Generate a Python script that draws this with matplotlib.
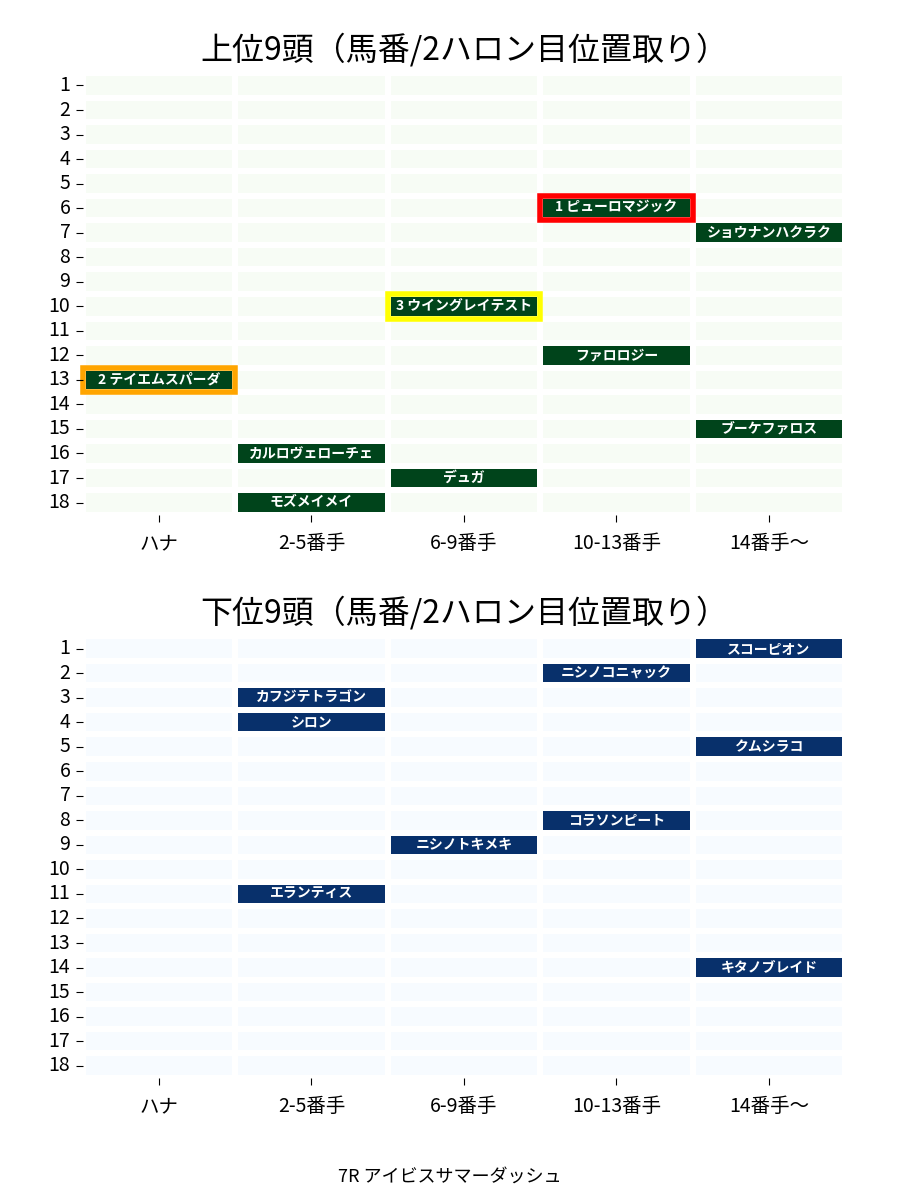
import numpy as np
import matplotlib
matplotlib.use("Agg")
import matplotlib.pyplot as plt
import seaborn as sns
from matplotlib.patches import Rectangle

plt.rcParams['font.family'] = ['Noto Sans CJK JP', 'DejaVu Sans']

positions = ['ハナ', '2-5番手', '6-9番手', '10-13番手', '14番手〜']
horse_nums = list(range(1, 19))

# top 9: horse number, position column, name
top_nums = [6, 7, 10, 12, 13, 15, 16, 17, 18]
top_cols = [3, 4, 2, 3, 0, 4, 1, 2, 1]
top_names = ['1 ピューロマジック', 'ショウナンハクラク', '3 ウイングレイテスト', 'ファロロジー',
             '2 テイエムスパーダ', 'ブーケファロス', 'カルロヴェローチェ', 'デュガ', 'モズメイメイ']
# rank highlight (1st, 2nd, 3rd)
podium_nums = [6, 13, 10]
podium_cols = [3, 0, 2]
podium_colors = ['red', 'orange', 'yellow']

# bottom 9
bot_nums = [1, 2, 3, 4, 5, 8, 9, 11, 14]
bot_cols = [4, 3, 1, 1, 4, 3, 2, 1, 4]
bot_names = ['スコーピオン', 'ニシノコニャック', 'カフジテトラゴン', 'シロン', 'クムシラコ',
             'コラソンピート', 'ニシノトキメキ', 'エランティス', 'キタノブレイド']

race_title = '7R アイビスサマーダッシュ'


def build(nums, cols, names):
    grid = np.zeros((len(horse_nums), len(positions)))
    labels = np.full(grid.shape, '', dtype=object)
    for n, c, name in zip(nums, cols, names):
        grid[n - 1, c] = 1
        labels[n - 1, c] = name
    return grid, labels


fig = plt.figure(figsize=(9, 12), dpi=100)
ax1 = fig.add_axes([0.092, 0.571, 0.847, 0.368])
ax2 = fig.add_axes([0.092, 0.1017, 0.847, 0.368])

for ax, (nums, cols, names), cmap, title in [
        (ax1, (top_nums, top_cols, top_names), 'Greens', '上位9頭（馬番/2ハロン目位置取り）'),
        (ax2, (bot_nums, bot_cols, bot_names), 'Blues', '下位9頭（馬番/2ハロン目位置取り）')]:
    grid, labels = build(nums, cols, names)
    sns.heatmap(grid, ax=ax, cmap=cmap, vmin=0, vmax=1, cbar=False,
                linewidths=3, linecolor='white', annot=labels, fmt='',
                annot_kws={'fontsize': 10, 'fontweight': 'bold', 'color': 'white'},
                xticklabels=positions, yticklabels=horse_nums)
    ax.tick_params(axis='y', labelrotation=0, labelsize=14, length=5, pad=4)
    ax.tick_params(axis='x', labelsize=14, length=5, pad=8)
    ax.set_title(title, fontsize=23, pad=10)

for n, c, col in zip(podium_nums, podium_cols, podium_colors):
    ax1.add_patch(Rectangle((c, n - 1), 1, 1, fill=False, edgecolor=col, lw=4, clip_on=False))

fig.text(0.5, 0.015, race_title, ha='center', fontsize=13)

plt.savefig('out.png', dpi=100)
